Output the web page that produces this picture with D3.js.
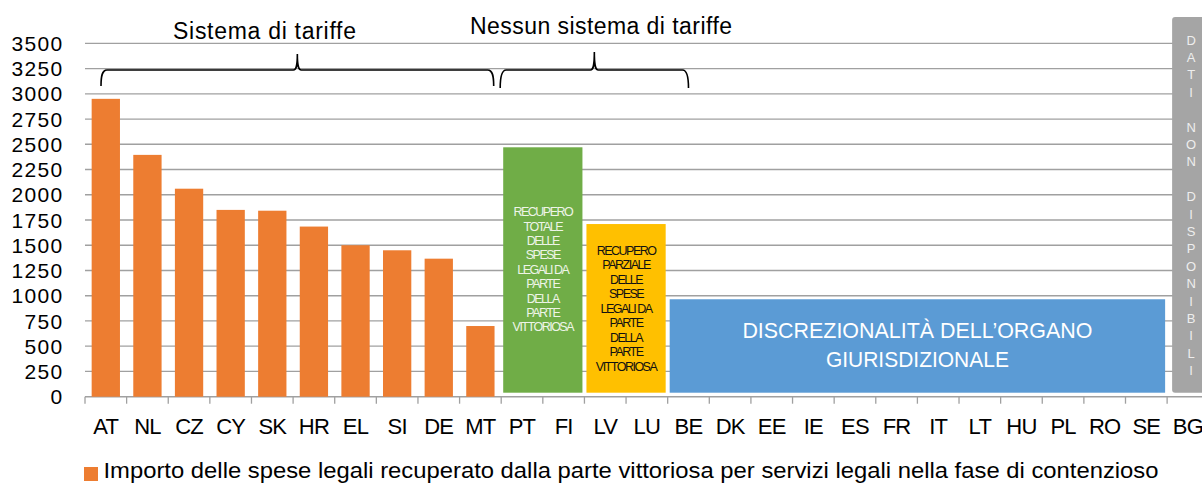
<!DOCTYPE html>
<html>
<head>
<meta charset="utf-8">
<script src="https://cdn.jsdelivr.net/npm/d3@7"></script>
<style>
  body { margin: 0; background: #fff; }
  svg { display: block; font-family: "Liberation Sans", Arial, sans-serif; }
</style>
</head>
<body>
<div id="chart"></div>
<script>
var countries = ["AT","NL","CZ","CY","SK","HR","EL","SI","DE","MT","PT","FI","LV","LU","BE","DK","EE","IE","ES","FR","IT","LT","HU","PL","RO","SE","BG"];
var barCountries = ["AT","NL","CZ","CY","SK","HR","EL","SI","DE","MT"];
var barValues    = [2950, 2395, 2060, 1850, 1842, 1685, 1500, 1450, 1367, 700];
var yTicks       = [0,250,500,750,1000,1250,1500,1750,2000,2250,2500,2750,3000,3250,3500];

// blocks: first and last country covered, and the height they reach
var blockFrom   = ["PT", "LV", "BE", "BG"];
var blockTo     = ["FI", "LU", "SE", "BG"];
var blockValues = [2470, 1710, 965, 3760];
var blockLabels = [
    ["RECUPERO","TOTALE","DELLE","SPESE","LEGALI DA","PARTE","DELLA","PARTE","VITTORIOSA"],
    ["RECUPERO","PARZIALE","DELLE","SPESE","LEGALI DA","PARTE","DELLA","PARTE","VITTORIOSA"],
    ["DISCREZIONALITÀ DELL’ORGANO","GIURISDIZIONALE"],
    "DATI NON DISPONIBILI".split("")
];
var groupLabels = ["Sistema di tariffe", "Nessun sistema di tariffe"];
var legendLabel = "Importo delle spese legali recuperato dalla parte vittoriosa per servizi legali nella fase di contenzioso";

var width = 1202, height = 483;
var step = 41.62;
var left = 85;

var svg = d3.select("#chart").append("svg").attr("width", width).attr("height", height);

var x = d3.scaleBand().domain(countries).range([left, left + step*countries.length]);
var y = d3.scaleLinear().domain([0, 3500]).range([396.7, 43.3]);

// gridlines
svg.append("g").selectAll("line").data(yTicks.slice(1)).enter().append("line")
    .attr("x1", left).attr("x2", 1175)
    .attr("y1", function(d){return y(d);}).attr("y2", function(d){return y(d);})
    .attr("stroke", "#a0a0a0").attr("stroke-width", 1.3);

// y labels
svg.append("g").selectAll("text").data(yTicks).enter().append("text")
    .attr("x", 63.5).attr("y", function(d){return y(d);}).attr("dy", "0.36em")
    .attr("text-anchor", "end").style("font-size", "21px").style("letter-spacing", "1.3px")
    .text(function(d){return d;});

// x axis
var xAxisG = svg.append("g");
xAxisG.append("line").attr("x1", left).attr("x2", width).attr("y1", y(0)).attr("y2", y(0))
    .attr("stroke", "#a0a0a0").attr("stroke-width", 1.5);
xAxisG.selectAll("line.tick").data(countries.concat(["_end"])).enter().append("line").attr("class","tick")
    .attr("x1", function(d,i){return left + i*step;}).attr("x2", function(d,i){return left + i*step;})
    .attr("y1", y(0)).attr("y2", y(0) + 7)
    .attr("stroke", "#a0a0a0").attr("stroke-width", 1.3);
xAxisG.selectAll("text").data(countries).enter().append("text")
    .attr("x", function(d){return x(d) + x.bandwidth()/2;}).attr("y", 433.5)
    .attr("text-anchor", "middle").style("font-size", "22px").style("letter-spacing", "-0.8px")
    .text(function(d){return d;});

// bars
var inset = step*0.16;
svg.append("g").selectAll("rect").data(barValues).enter().append("rect")
    .attr("x", function(d,i){return x(barCountries[i]) + inset;})
    .attr("width", x.bandwidth() - 2*inset)
    .attr("y", function(d){return y(d);})
    .attr("height", function(d){return y(0) - y(d);})
    .attr("fill", "#ed7d31");

// blocks
var blockColors = ["#70ad47", "#ffc000", "#5b9bd5", "#a5a5a5"];
var blockText   = ["#eef5e8", "#111", "#fff", "#eeeeee"];
blockValues.forEach(function(v, i){
    var x0 = x(blockFrom[i]) + 2, x1 = x(blockTo[i]) + step - 2;
    if (i == 3) { x0 = x(blockFrom[i]) + 5; x1 = width + 5; }
    svg.append("rect").attr("x", x0).attr("y", y(v)).attr("width", x1 - x0)
        .attr("height", y(0) - 4 - y(v)).attr("fill", blockColors[i])
        .attr("rx", i == 3 ? 3 : 0);
});

function blockLines(i, cx, firstY, lineH, size, spacing, lengths) {
    var g = svg.append("g");
    blockLabels[i].forEach(function(t, k){
        var txt = g.append("text").attr("x", cx).attr("y", firstY + k*lineH).attr("dy", "0.36em")
            .attr("text-anchor", "middle").attr("fill", blockText[i])
            .style("font-size", size + "px").style("letter-spacing", spacing + "px")
            .text(t);
        if (lengths) txt.attr("textLength", lengths[k]).attr("lengthAdjust", "spacingAndGlyphs");
    });
}
blockLines(0, x("PT") + step, 211.7, 14.4, 12.5, -1.5);
blockLines(1, x("LV") + step, 250, 14.5, 12.5, -1.5);
blockLines(2, (x("BE") + x("SE") + step)/2, 330, 29, 22, 0, [350, 183]);
blockLines(3, x("BG") + 24, 40, 17.4, 13, 0);

// braces
function brace(x1, x2, yLine, yTop, yEnd) {
    var xm = (x1 + x2)/2;
    return "M" + x1 + "," + yEnd +
        " C" + x1 + "," + (yEnd-10) + " " + (x1+1) + "," + yLine + " " + (x1+6) + "," + yLine +
        " L" + (xm-4) + "," + yLine +
        " C" + (xm-1) + "," + yLine + " " + xm + "," + (yLine-4) + " " + xm + "," + yTop +
        " C" + xm + "," + (yLine-4) + " " + (xm+1) + "," + yLine + " " + (xm+4) + "," + yLine +
        " L" + (x2-6) + "," + yLine +
        " C" + (x2-1) + "," + yLine + " " + x2 + "," + (yEnd-10) + " " + x2 + "," + yEnd;
}
svg.append("path").attr("d", brace(x("AT") + 16, x("PT") - 7.5, 70, 54, 86))
    .attr("fill", "none").attr("stroke", "#000").attr("stroke-width", 1.6);
svg.append("path").attr("d", brace(x("PT") - 1, x("BE") + step/2, 70, 52, 88))
    .attr("fill", "none").attr("stroke", "#000").attr("stroke-width", 1.6);

// group titles
svg.append("text").attr("x", 173).attr("y", 38.5).style("font-size", "23px")
    .attr("textLength", 183).attr("lengthAdjust", "spacing").text(groupLabels[0]);
svg.append("text").attr("x", 470).attr("y", 33.5).style("font-size", "23px")
    .attr("textLength", 262).attr("lengthAdjust", "spacing").text(groupLabels[1]);

// legend
svg.append("rect").attr("x", 84).attr("y", 467).attr("width", 14).attr("height", 14).attr("fill", "#ed7d31");
svg.append("text").attr("x", 103.5).attr("y", 478).style("font-size", "22px")
    .attr("textLength", 1055).attr("lengthAdjust", "spacingAndGlyphs").text(legendLabel);
</script>
</body>
</html>
